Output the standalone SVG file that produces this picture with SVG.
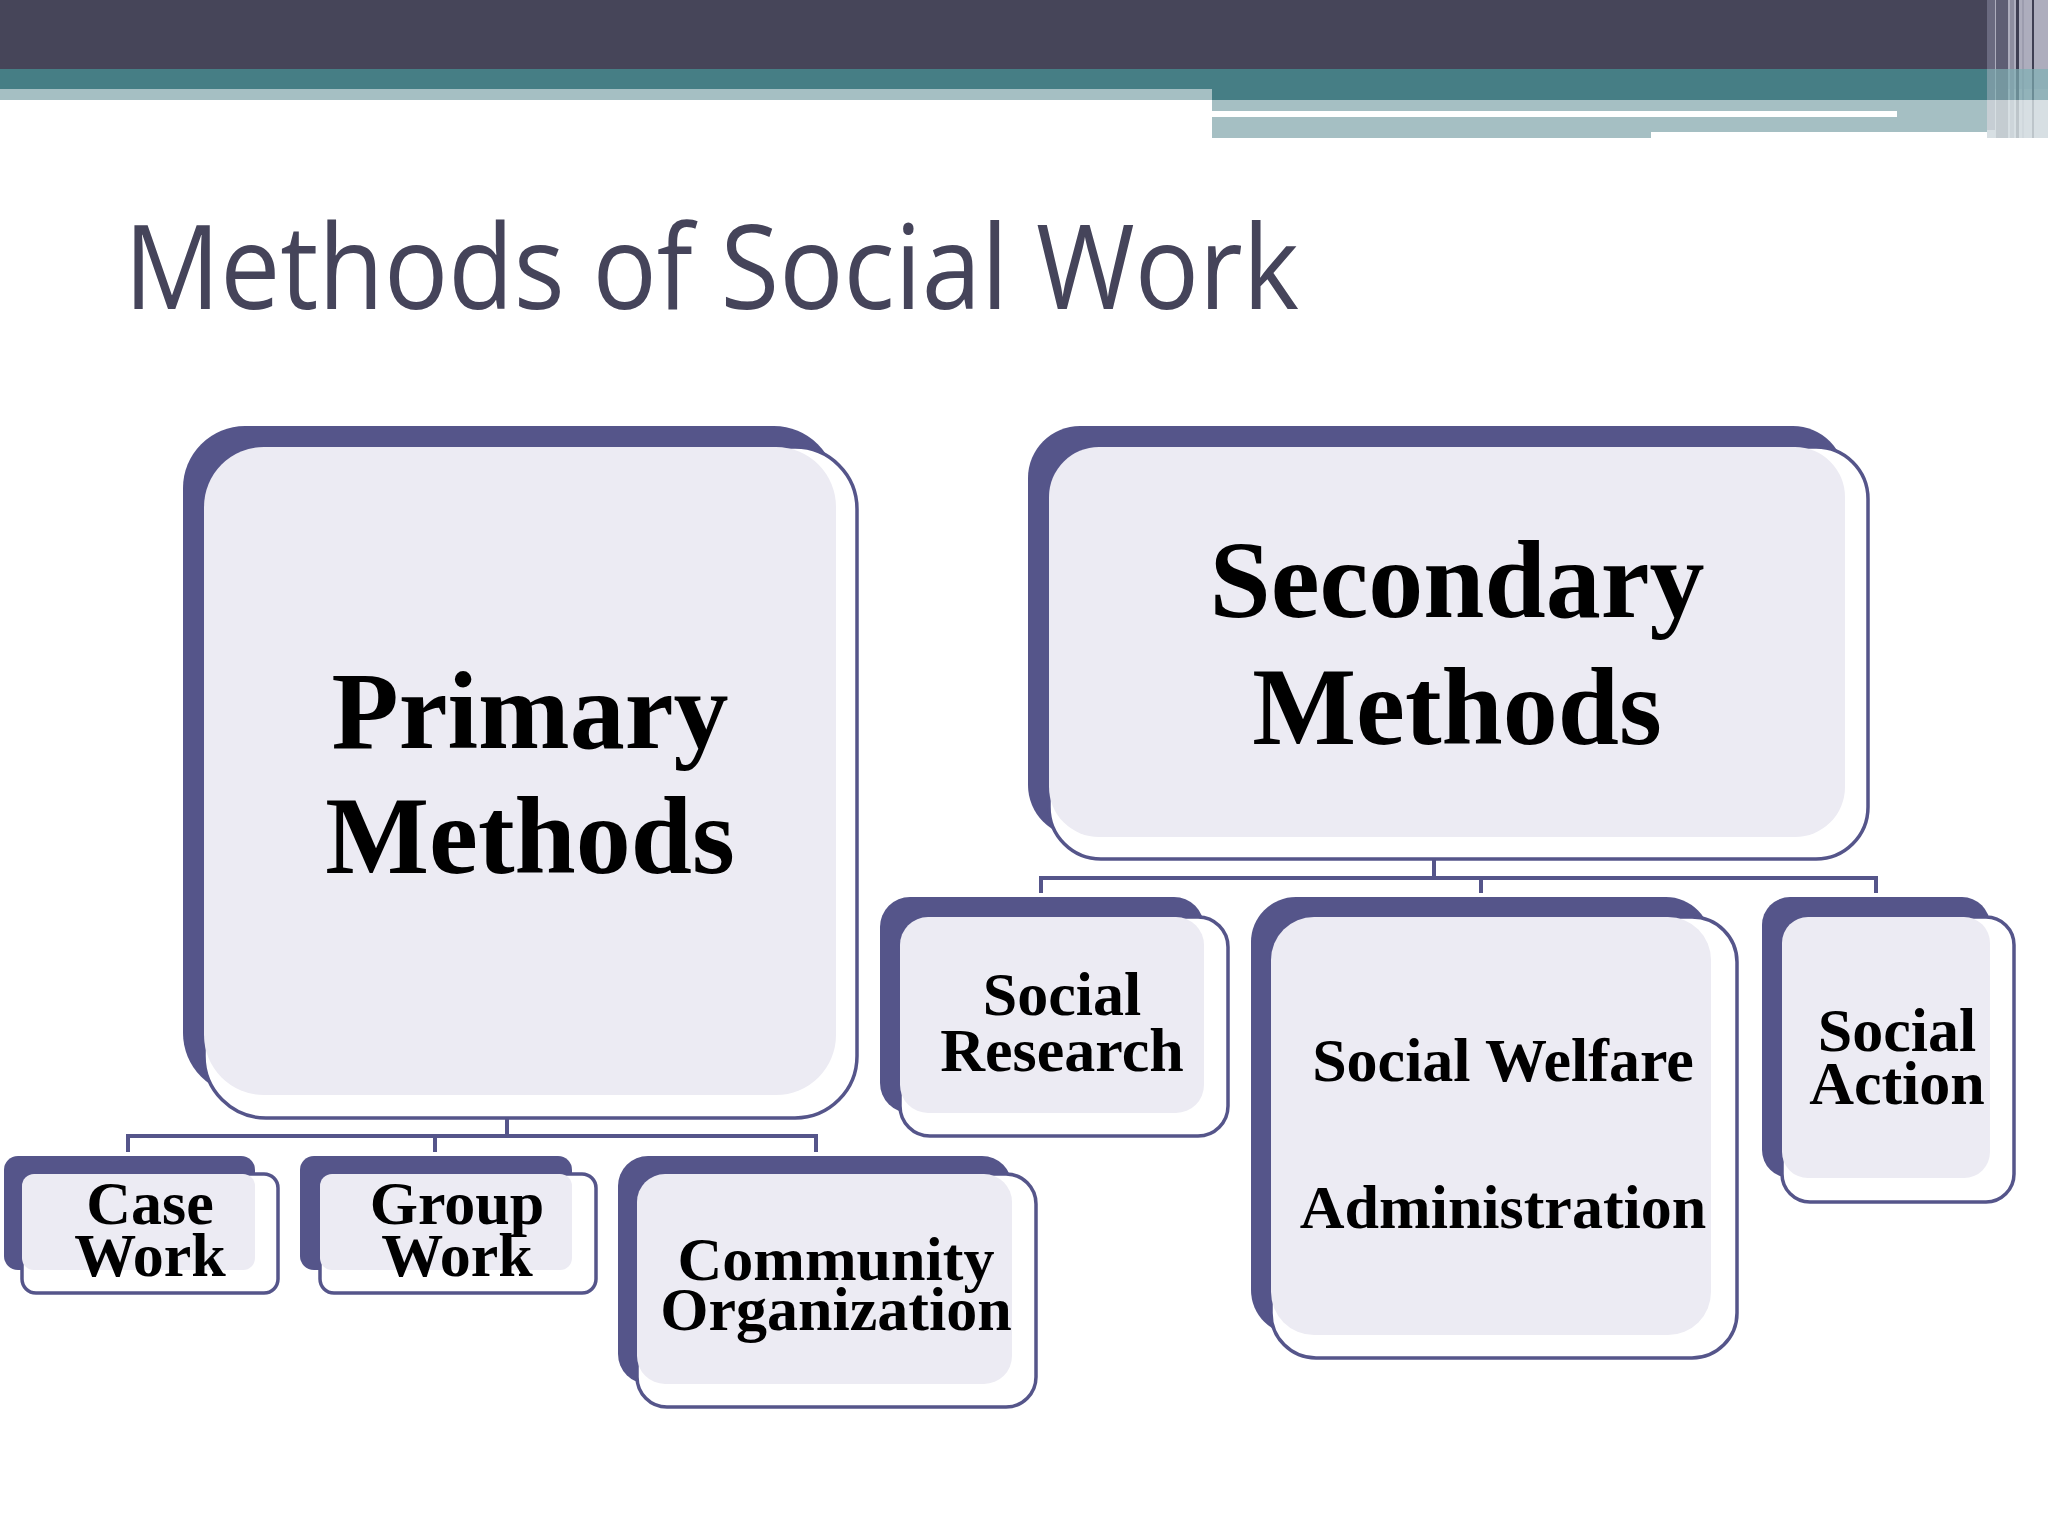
<svg xmlns="http://www.w3.org/2000/svg" width="2048" height="1536" viewBox="0 0 2048 1536">
<style>
.back{fill:#55558A}
.front{fill:#FFFFFF;stroke:#55558A;stroke-width:3.5}
.inner{fill:#ECEBF3}
.big{font-family:"Liberation Serif","Times New Roman",serif;font-weight:bold;font-size:110px;fill:#000;text-anchor:middle}
.lbl{font-family:"Liberation Serif","Times New Roman",serif;font-weight:bold;font-size:62px;fill:#000;text-anchor:middle}
.conn{stroke:#55558A;stroke-width:4;fill:none}
.connlt{stroke:#D8D8E4;stroke-width:4;fill:none}
</style>
<rect width="2048" height="1536" fill="#FFFFFF"/>
<g id="header">
<rect x="0" y="0" width="2048" height="69" fill="#464559"/>
<rect x="0" y="69" width="2048" height="20" fill="#467E85"/>
<rect x="0" y="89" width="1212" height="11" fill="#A5BFC3"/>
<rect x="1212" y="89" width="775" height="11" fill="#467E85"/>
<rect x="1212" y="100" width="775" height="38" fill="#A5BFC3"/>
<rect x="1212" y="111" width="685" height="6" fill="#FFFFFF"/>
<rect x="1651" y="132" width="336" height="6" fill="#FFFFFF"/>
<rect x="1987" y="0" width="61" height="138" fill="#B8B8C8" opacity="0.9"/>
<rect x="1987" y="0" width="8" height="130" fill="#6A6A80"/>
<rect x="1996" y="0" width="12" height="138" fill="#5E5E74"/>
<rect x="2010" y="0" width="4" height="138" fill="#8E8EA0"/>
<rect x="2016" y="0" width="3" height="138" fill="#3E3E52"/>
<rect x="2022" y="0" width="2" height="138" fill="#9C9CAE"/>
<rect x="2032" y="0" width="2" height="138" fill="#3E3E52"/>
<rect x="1987" y="69" width="61" height="31" fill="#7FAEB2" opacity="0.7"/>
<rect x="1987" y="100" width="61" height="38" fill="#DDE7E9" opacity="0.8"/>
</g>
<text id="title" x="124" y="309" font-family="'Open Sans','Liberation Sans',sans-serif" font-size="118" fill="#45445A" textLength="1175" lengthAdjust="spacingAndGlyphs">Methods of Social Work</text>
<g id="connectors">
<line class="connlt" x1="507" y1="1096" x2="507" y2="1118"/>
<polyline class="conn" points="507,1118 507,1136"/>
<polyline class="conn" points="128,1152 128,1136 816,1136 816,1152"/>
<line class="conn" x1="435" y1="1136" x2="435" y2="1152"/>
<line class="connlt" x1="1434" y1="838" x2="1434" y2="859"/>
<polyline class="conn" points="1434,859 1434,878"/>
<polyline class="conn" points="1041,893 1041,878 1876,878 1876,893"/>
<line class="conn" x1="1481" y1="878" x2="1481" y2="893"/>
</g>
<g id="node-primary">
<rect class="back" x="183" y="426" width="653" height="669" rx="62"/>
<rect class="front" x="204" y="447" width="653" height="671" rx="62"/>
<rect class="inner" x="204" y="447" width="632" height="648" rx="60"/>
<text class="big" x="530" y="748">Primary</text>
<text class="big" x="530" y="873">Methods</text>
</g>
<g id="node-secondary">
<rect class="back" x="1028" y="426" width="817" height="411" rx="52"/>
<rect class="front" x="1049" y="447" width="819" height="412" rx="52"/>
<rect class="inner" x="1049" y="447" width="796" height="390" rx="50"/>
<text class="big" x="1457" y="617">Secondary</text>
<text class="big" x="1457" y="744">Methods</text>
</g>
<g id="node-casework">
<rect class="back" x="4" y="1156" width="251" height="114" rx="14"/>
<rect class="front" x="22" y="1174" width="256" height="119" rx="14"/>
<rect class="inner" x="22" y="1174" width="233" height="96" rx="12"/>
<text class="lbl" x="150" y="1224" font-size="60">Case</text>
<text class="lbl" x="150" y="1276" font-size="60">Work</text>
</g>
<g id="node-groupwork">
<rect class="back" x="300" y="1156" width="272" height="114" rx="14"/>
<rect class="front" x="320" y="1174" width="276" height="119" rx="14"/>
<rect class="inner" x="320" y="1174" width="252" height="96" rx="12"/>
<text class="lbl" x="457" y="1224" font-size="60">Group</text>
<text class="lbl" x="457" y="1276" font-size="60">Work</text>
</g>
<g id="node-community">
<rect class="back" x="618" y="1156" width="394" height="228" rx="30"/>
<rect class="front" x="637" y="1174" width="399" height="233" rx="30"/>
<rect class="inner" x="637" y="1174" width="375" height="210" rx="28"/>
<text class="lbl" x="836" y="1280" font-size="60">Community</text>
<text class="lbl" x="836" y="1330" font-size="60">Organization</text>
</g>
<g id="node-research">
<rect class="back" x="880" y="897" width="324" height="216" rx="30"/>
<rect class="front" x="900" y="917" width="328" height="219" rx="30"/>
<rect class="inner" x="900" y="917" width="304" height="196" rx="28"/>
<text class="lbl" x="1062" y="1015" font-size="66">Social</text>
<text class="lbl" x="1062" y="1071" font-size="66">Research</text>
</g>
<g id="node-welfare">
<rect class="back" x="1251" y="897" width="460" height="438" rx="45"/>
<rect class="front" x="1271" y="917" width="466" height="441" rx="45"/>
<rect class="inner" x="1271" y="917" width="440" height="418" rx="43"/>
<text class="lbl" x="1503" y="1081">Social Welfare</text>
<text class="lbl" x="1503" y="1228">Administration</text>
</g>
<g id="node-action">
<rect class="back" x="1762" y="897" width="228" height="281" rx="28"/>
<rect class="front" x="1782" y="917" width="232" height="285" rx="28"/>
<rect class="inner" x="1782" y="917" width="208" height="261" rx="26"/>
<text class="lbl" x="1897" y="1051" font-size="61">Social</text>
<text class="lbl" x="1897" y="1104" font-size="61">Action</text>
</g>
</svg>
